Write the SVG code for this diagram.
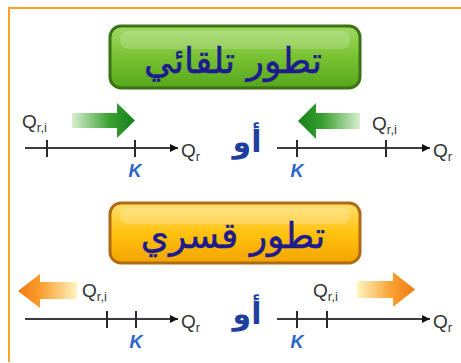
<svg xmlns="http://www.w3.org/2000/svg" width="461" height="363" viewBox="0 0 461 363">
<defs>
<linearGradient id="gBtn" x1="0" y1="0" x2="0" y2="1">
<stop offset="0" stop-color="#a2d864"/><stop offset="0.5" stop-color="#78c232"/><stop offset="1" stop-color="#56a61c"/>
</linearGradient>
<linearGradient id="oBtn" x1="0" y1="0" x2="0" y2="1">
<stop offset="0" stop-color="#ffe070"/><stop offset="0.5" stop-color="#ffc20e"/><stop offset="1" stop-color="#f2a400"/>
</linearGradient>
<linearGradient id="gR" x1="0" y1="0" x2="1" y2="0">
<stop offset="0" stop-color="#d8f0d0"/><stop offset="0.6" stop-color="#3aa030"/><stop offset="1" stop-color="#16801a"/>
</linearGradient>
<linearGradient id="gL" x1="1" y1="0" x2="0" y2="0">
<stop offset="0" stop-color="#d8f0d0"/><stop offset="0.6" stop-color="#3aa030"/><stop offset="1" stop-color="#16801a"/>
</linearGradient>
<linearGradient id="oR" x1="0" y1="0" x2="1" y2="0">
<stop offset="0" stop-color="#fff4c0"/><stop offset="0.6" stop-color="#f9a030"/><stop offset="1" stop-color="#f07a10"/>
</linearGradient>
<linearGradient id="oL" x1="1" y1="0" x2="0" y2="0">
<stop offset="0" stop-color="#fff4c0"/><stop offset="0.6" stop-color="#f9a030"/><stop offset="1" stop-color="#f07a10"/>
</linearGradient>
<marker id="ah" viewBox="0 0 10 10" refX="10" refY="5" markerWidth="10" markerHeight="8" markerUnits="userSpaceOnUse" orient="auto">
<path d="M0,0 L10,5 L0,10 z" fill="#111"/>
</marker>
</defs>
<style>
.ar{font-family:"DejaVu Sans",sans-serif;font-weight:normal;fill:#1c1c8e;stroke:#1c1c8e;stroke-width:0.5;}
.or{font-family:"DejaVu Sans",sans-serif;font-weight:bold;fill:#1f3f9f;font-size:30px;}
.q{font-family:"Liberation Sans",Arial,sans-serif;fill:#333;font-size:19px;}
.k{font-family:"Liberation Sans",Arial,sans-serif;fill:#2a66c8;font-size:18px;font-style:italic;font-weight:bold;}
.ax{stroke:#3a3a44;stroke-width:2;fill:none;}
.tk{stroke:#2a2a2a;stroke-width:2;}
</style>
<rect x="0" y="0" width="461" height="363" fill="#ffffff"/>
<path d="M9,362 L9,8 L461,8" fill="none" stroke="#f7a428" stroke-width="2"/>

<g id="btn-spontaneous">
<rect x="110" y="26" width="250" height="62" rx="11" fill="url(#gBtn)" stroke="#3a7214" stroke-width="3"/>
<rect x="120" y="31" width="230" height="18" rx="8" fill="#ffffff" opacity="0.18"/>
<text class="ar" x="233" y="73" font-size="36" text-anchor="middle" direction="rtl">تطور تلقائي</text>
</g>

<g id="btn-forced">
<rect x="110" y="203" width="250" height="60" rx="11" fill="url(#oBtn)" stroke="#b06a14" stroke-width="3"/>
<rect x="120" y="208" width="230" height="16" rx="8" fill="#ffffff" opacity="0.2"/>
<text class="ar" x="233" y="248" font-size="36" text-anchor="middle" direction="rtl">تطور قسري</text>
</g>

<g id="connectors">
<line class="ax" x1="25" y1="148" x2="178" y2="148" marker-end="url(#ah)"/>
<line class="ax" x1="277" y1="148" x2="430" y2="148" marker-end="url(#ah)"/>
<line class="ax" x1="25" y1="319" x2="178" y2="319" marker-end="url(#ah)"/>
<line class="ax" x1="277" y1="319" x2="430" y2="319" marker-end="url(#ah)"/>
</g>

<g id="axis-tl">
<line class="tk" x1="47" y1="140" x2="47" y2="157"/>
<line class="tk" x1="135" y1="140" x2="135" y2="157"/>
<text class="q" x="22" y="128">Q<tspan font-size="13" dy="4">r,i</tspan></text>
<text class="q" x="181" y="157">Q<tspan font-size="13" dy="4">r</tspan></text>
<text class="k" x="135" y="177" text-anchor="middle">K</text>
<path d="M72,113 L117,113 L117,103 L135,120.5 L117,138 L117,128 L72,128 z" fill="url(#gR)"/>
</g>

<g id="axis-tr">
<text class="or" x="247" y="152" text-anchor="middle" direction="rtl">أو</text>
<line class="tk" x1="297" y1="140" x2="297" y2="157"/>
<line class="tk" x1="386" y1="140" x2="386" y2="157"/>
<text class="q" x="372" y="130">Q<tspan font-size="13" dy="4">r,i</tspan></text>
<text class="q" x="433" y="157">Q<tspan font-size="13" dy="4">r</tspan></text>
<text class="k" x="297" y="177" text-anchor="middle">K</text>
<path d="M360,113 L316,113 L316,103 L298,121 L316,139 L316,129 L360,129 z" fill="url(#gL)"/>
</g>

<g id="axis-bl">
<line class="tk" x1="107" y1="311" x2="107" y2="328"/>
<line class="tk" x1="136" y1="311" x2="136" y2="328"/>
<text class="q" x="82" y="297">Q<tspan font-size="13" dy="4">r,i</tspan></text>
<text class="q" x="181" y="328">Q<tspan font-size="13" dy="4">r</tspan></text>
<text class="k" x="136" y="348" text-anchor="middle">K</text>
<path d="M77,282 L40,282 L40,274 L18,291 L40,308 L40,299 L77,299 z" fill="url(#oL)"/>
</g>

<g id="axis-br">
<text class="or" x="247" y="324" text-anchor="middle" direction="rtl">أو</text>
<line class="tk" x1="297" y1="311" x2="297" y2="328"/>
<line class="tk" x1="327" y1="311" x2="327" y2="328"/>
<text class="q" x="313" y="297">Q<tspan font-size="13" dy="4">r,i</tspan></text>
<text class="q" x="433" y="328">Q<tspan font-size="13" dy="4">r</tspan></text>
<text class="k" x="297" y="348" text-anchor="middle">K</text>
<path d="M357,281 L393,281 L393,272 L415,289.5 L393,307 L393,298 L357,298 z" fill="url(#oR)"/>
</g>
</svg>
